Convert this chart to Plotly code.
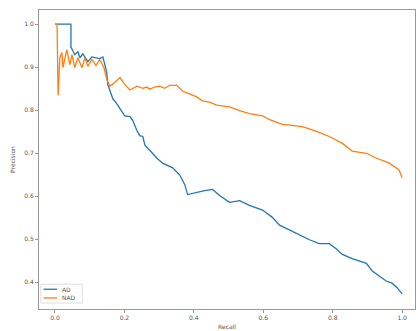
import plotly.graph_objects as go

# Precision-recall points for the two detectors
ad_recall = [0.0, 0.007, 0.046, 0.046, 0.057, 0.066, 0.072, 0.080, 0.095, 0.106, 0.129, 0.138,
             0.149, 0.152, 0.158, 0.167, 0.175, 0.187, 0.201, 0.216, 0.224, 0.236, 0.244, 0.253,
             0.259, 0.273, 0.293, 0.310, 0.339, 0.359, 0.374, 0.382, 0.408, 0.431, 0.454, 0.474,
             0.503, 0.532, 0.560, 0.598, 0.626, 0.647, 0.675, 0.704, 0.733, 0.761, 0.790, 0.810,
             0.828, 0.856, 0.897, 0.914, 0.934, 0.954, 0.971, 0.986, 1.0]
ad_precision = [1.0, 1.0, 1.0, 0.947, 0.929, 0.936, 0.922, 0.931, 0.913, 0.924, 0.920, 0.924,
                0.888, 0.860, 0.844, 0.826, 0.819, 0.803, 0.787, 0.785, 0.776, 0.753, 0.741, 0.739,
                0.719, 0.707, 0.689, 0.677, 0.666, 0.650, 0.627, 0.604, 0.609, 0.613, 0.616, 0.602,
                0.586, 0.590, 0.579, 0.568, 0.551, 0.533, 0.522, 0.510, 0.499, 0.490, 0.490, 0.478,
                0.465, 0.455, 0.444, 0.426, 0.414, 0.403, 0.398, 0.387, 0.373]

nad_recall = [0.0, 0.006, 0.009, 0.014, 0.020, 0.023, 0.034, 0.043, 0.049, 0.057, 0.066, 0.078,
              0.086, 0.095, 0.106, 0.118, 0.129, 0.141, 0.149, 0.158, 0.170, 0.187, 0.201, 0.216,
              0.236, 0.253, 0.264, 0.273, 0.287, 0.302, 0.316, 0.330, 0.351, 0.368, 0.388, 0.408,
              0.425, 0.445, 0.466, 0.489, 0.503, 0.532, 0.560, 0.598, 0.618, 0.655, 0.684, 0.713,
              0.753, 0.790, 0.828, 0.856, 0.897, 0.925, 0.963, 0.991, 1.0]
nad_precision = [1.0, 1.0, 0.835, 0.922, 0.934, 0.899, 0.941, 0.906, 0.929, 0.899, 0.922, 0.899,
                 0.922, 0.902, 0.918, 0.904, 0.918, 0.899, 0.872, 0.856, 0.863, 0.876, 0.860, 0.847,
                 0.856, 0.851, 0.854, 0.849, 0.854, 0.856, 0.851, 0.858, 0.858, 0.844, 0.838, 0.831,
                 0.822, 0.819, 0.812, 0.810, 0.808, 0.799, 0.792, 0.787, 0.778, 0.767, 0.764, 0.762,
                 0.751, 0.739, 0.723, 0.705, 0.700, 0.689, 0.677, 0.661, 0.643]

x_ticks = [0.0, 0.2, 0.4, 0.6, 0.8, 1.0]
y_ticks = [0.4, 0.5, 0.6, 0.7, 0.8, 0.9, 1.0]

series_names = ["AD", "NAD"]
series_colors = ["#1f77b4", "#ff7f0e"]

FONT = "DejaVu Sans"
TEXT_COLOR = "#555555"

fig = go.Figure()
fig.add_trace(go.Scatter(x=ad_recall, y=ad_precision, mode="lines", name=series_names[0],
                         line=dict(color=series_colors[0], width=1.3), showlegend=False))
fig.add_trace(go.Scatter(x=nad_recall, y=nad_precision, mode="lines", name=series_names[1],
                         line=dict(color=series_colors[1], width=1.3), showlegend=False))

axis_common = dict(
    showgrid=False, zeroline=False, showline=True, mirror=True,
    linecolor="#999999", linewidth=1,
    ticks="outside", ticklen=3, tickwidth=1, tickcolor="#999999",
    tickfont=dict(family=FONT, size=6, color=TEXT_COLOR),
)

fig.update_layout(
    width=418, height=331,
    margin=dict(l=39, r=2, t=10, b=18),
    paper_bgcolor="white", plot_bgcolor="white",
    font=dict(family=FONT, size=6, color=TEXT_COLOR),
    xaxis=dict(range=[-0.046, 1.037], tickvals=x_ticks,
               ticktext=[f"{v:.1f}" for v in x_ticks],
               title=dict(text="Recall", font=dict(family=FONT, size=6, color=TEXT_COLOR),
                          standoff=4),
               **axis_common),
    yaxis=dict(range=[0.338, 1.033], tickvals=y_ticks,
               ticktext=[f"{v:.1f}" for v in y_ticks],
               title=dict(text="Precision", font=dict(family=FONT, size=6, color=TEXT_COLOR),
                          standoff=8),
               **axis_common),
)

# Legend box in the lower-left corner of the axes
shapes = [dict(type="rect", xref="paper", yref="paper",
               x0=0.005, x1=0.115, y0=0.02, y1=0.083,
               line=dict(color="#dddddd", width=1), fillcolor="rgba(255,255,255,0.8)")]
annotations = []
legend_rows = [0.066, 0.037]
for name, color, yy in zip(series_names, series_colors, legend_rows):
    shapes.append(dict(type="line", xref="paper", yref="paper",
                       x0=0.012, x1=0.048, y0=yy, y1=yy,
                       line=dict(color=color, width=1.3)))
    annotations.append(dict(xref="paper", yref="paper", x=0.056, y=yy, text=name,
                            showarrow=False, xanchor="left", yanchor="middle",
                            font=dict(family=FONT, size=6, color=TEXT_COLOR)))
fig.update_layout(shapes=shapes, annotations=annotations)

fig.write_html("out.html")
